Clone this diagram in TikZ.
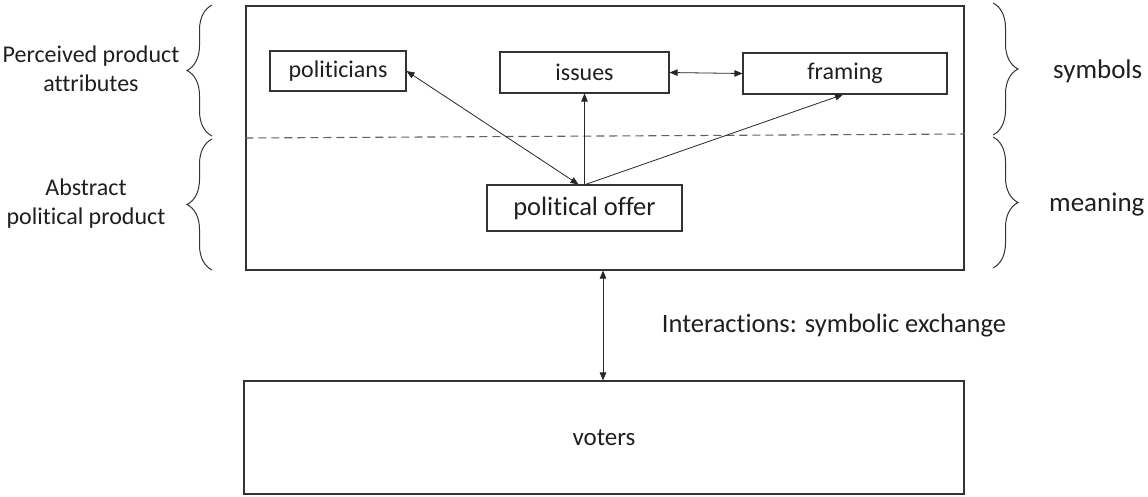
\documentclass[tikz,border=0pt]{standalone}
\usepackage{fontspec}
\setmainfont{Carlito}[Ligatures={NoCommon,NoRare,NoContextual}]
\usetikzlibrary{arrows.meta,decorations.pathreplacing,calc}
\begin{document}
\begin{tikzpicture}[x=1pt,y=-1pt,
  box/.style={draw=black!80,line width=1.1pt,rectangle,inner sep=0pt,text=black!88},
  conn/.style={line width=0.8pt,draw=black!85,-{Triangle[length=8pt,width=6.5pt]}},
  biconn/.style={line width=0.8pt,draw=black!85,{Triangle[length=8pt,width=6.5pt]}-{Triangle[length=8pt,width=6.5pt]}},
  brc/.style={draw=black!80,line width=1pt,decorate,decoration={brace,amplitude=25pt}},
  lbl/.style={text=black!88,align=center,inner sep=0pt},
  fs/.style={font=\fontsize{#1}{29}\selectfont}
]
\useasboundingbox (0,0) rectangle (1148,496);

% outer frame of the political product and the voters
\node[box,minimum width=718pt,minimum height=264pt] (product) at (605,138) {};
\node[box,minimum width=720pt,minimum height=113pt,fs=25] (voters) at (604,437.5) {voters};

% boundary between symbols and meaning
\draw[draw=black!62,line width=1.1pt,dash pattern=on 8pt off 5pt]
  (product.west |- 0,138) coordinate (dl) -- (product.east |- 0,134) coordinate (dr);

% attribute boxes
\node[box,minimum width=136pt,minimum height=40pt,fs=24] (politicians) at (338,71) {politicians};
\node[box,minimum width=169pt,minimum height=41pt,fs=24] (issues) at (584.5,72.5) {issues};
\node[box,minimum width=204pt,minimum height=41pt,fs=24] (framing) at (845,73.5) {framing};
\node[box,minimum width=195pt,minimum height=46pt,fs=26.5] (offer) at (584.5,208) {political offer};

% connectors
\draw[biconn] ($(offer.north)+(-6,0)$) -- (politicians.east);
\draw[conn] (offer.north) -- (issues.south);
\draw[conn] ($(offer.north)+(1,0)$) -- ($(framing.south)+(-2,0)$);
\draw[biconn] (issues.east) -- (framing.west);
\draw[biconn] ($(product.south)+(-2,0)$) coordinate (ps) -- (ps |- voters.north);

% braces on the left
\draw[brc] (212,136) -- (212,5);
\draw[brc] (212,270) -- (212,139);
\node[lbl,fs=24] (perc) at (91,69) {Perceived product\\attributes};
\node[lbl,fs=24] (abst) at (86,204) {Abstract\\political product};

% braces on the right
\draw[brc] (993,3) -- (993,135);
\draw[brc] (993,137) -- (993,268);
\node[lbl,fs=27,anchor=west] (sym) at (1053,71) {symbols};
\node[lbl,fs=27,anchor=west] (mean) at (1049,205) {meaning};

\node[lbl,fs=26.5] (inter) at (834,326) {Interactions: symbolic exchange};
\end{tikzpicture}
\end{document}
